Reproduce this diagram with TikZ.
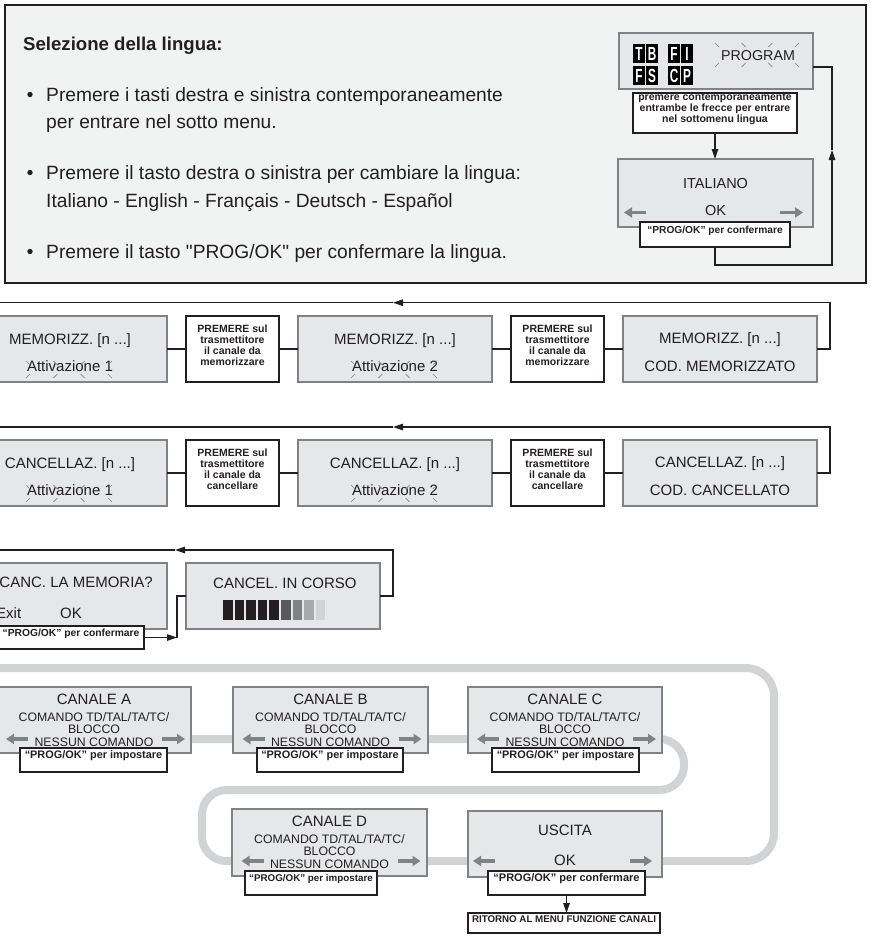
\documentclass[tikz,border=0pt]{standalone}
\usepackage{fontspec}
\usepackage{graphicx}
\setmainfont{Liberation Sans}
\newfontfamily\rawfont{Liberation Sans}[Ligatures=TeXOff]
\usetikzlibrary{arrows.meta,fit,backgrounds}
\definecolor{panelfill}{HTML}{F1F2F2}
\definecolor{panelline}{HTML}{231F20}
\definecolor{lcdfill}{HTML}{E6E7E8}
\definecolor{lcdline}{HTML}{808285}
\definecolor{loopgrey}{HTML}{D1D3D4}
\definecolor{arrgrey}{HTML}{808285}
\definecolor{ink}{HTML}{231F20}
\definecolor{barA}{HTML}{58595B}
\definecolor{barB}{HTML}{808285}
\definecolor{barC}{HTML}{A7A9AC}
\definecolor{barD}{HTML}{D1D3D4}
\newcommand\sparks[4]{%
  \foreach \k/\s in {-1.5/1,-0.5/1,0.5/-1,1.5/-1}{%
    \draw[spark] ({#1+(\k)*#2-2*(\s)},#3) -- ++({4*(\s)},4);
    \draw[spark] ({#1+(\k)*#2+2*(\s)},#4) -- ++({-4*(\s)},4);
  }}
\newcommand\lcdch[4]{%
  \node[fill=black, minimum width=12.3pt, minimum height=19pt, inner sep=0pt,
        text=white, font=\bfseries\fontsize{19}{19}\selectfont] (#4) at (#1+6,#2+9.5)
        {\scalebox{0.62}[1]{#3}};}
\newcommand\chtexts[4]{%
  \node[boxtxt] (#1t) at (#2,#3+17) {CANALE #4};
  \node[subtxt] (#1c) at (#2,#3+34) {COMANDO TD/TAL/TA/TC/};
  \node[subtxt] (#1b) at (#2,#3+46.5) {BLOCCO};
  \node[subtxt] (#1n) at (#2,#3+59) {NESSUN COMANDO};
  \draw[garrow] (#2-66,#3+52) -- (#2-88,#3+52);
  \draw[garrow] (#2+68,#3+52) -- (#2+91,#3+52);}
\begin{document}
\begin{tikzpicture}[x=1pt,y=-1pt,
  lcd/.style={draw=lcdline, fill=lcdfill, line width=1.3pt, inner sep=0pt, outer sep=0pt},
  lbl/.style={draw=ink, fill=white, line width=1.1pt, inner sep=0pt, outer sep=0pt,
              align=center, text=ink, font=\bfseries\fontsize{10.5}{11}\selectfont},
  boxtxt/.style={inner sep=0pt, anchor=base, text=ink, font=\fontsize{15}{17}\selectfont},
  subtxt/.style={inner sep=0pt, anchor=base, text=ink, font=\fontsize{12.3}{13}\selectfont},
  bul/.style={inner sep=0pt, anchor=base west, text=ink, font=\fontsize{19.2}{22}\selectfont},
  dot/.style={circle, fill=ink, inner sep=0pt, minimum size=5.4pt},
  conn/.style={draw=ink, line width=1.2pt},
  arrowend/.style={-{Triangle[length=10pt,width=6.5pt]}},
  greyloop/.style={draw=loopgrey, line width=8pt},
  garrow/.style={draw=arrgrey, line width=3.5pt, -{Triangle[length=8pt,width=10pt]}},
  spark/.style={draw=arrgrey, line width=0.6pt},
]
\useasboundingbox (0,0) rectangle (875,945);

% ---------- top panel ----------
\node[draw=panelline, fill=panelfill, line width=2pt, inner sep=0pt, fit={(5,5)(866,283)}] (panel) {};
\node[inner sep=0pt, anchor=base west, text=ink, font=\bfseries\fontsize{18.6}{20}\selectfont] (title) at (23,50) {Selezione della lingua:};
\node[dot] (d1) at (30,94.5) {};
\node[bul] (b1a) at (46,101) {Premere i tasti destra e sinistra contemporaneamente};
\node[bul] (b1b) at (46,128) {per entrare nel sotto menu.};
\node[dot] (d2) at (30,172.5) {};
\node[bul] (b2a) at (46,179) {Premere il tasto destra o sinistra per cambiare la lingua:};
\node[bul] (b2b) at (46,207) {Italiano - English - Français - Deutsch - Español};
\node[dot] (d3) at (30,251.5) {};
\node[bul, font=\rawfont\fontsize{19.2}{22}\selectfont] (b3a) at (46,258) {Premere il tasto "PROG/OK" per confermare la lingua.};

\node[lcd, fit={(619,33)(813,89)}] (prog) {};
\lcdch{633}{44}{T}{cT}\lcdch{646}{44}{B}{cB}\lcdch{668}{44}{F}{cF}\lcdch{681}{44}{I}{cI}
\lcdch{633}{66}{F}{cF2}\lcdch{646}{66}{S}{cS}\lcdch{668}{66}{C}{cC}\lcdch{681}{66}{P}{cP}
\node[boxtxt, font=\fontsize{14.3}{16}\selectfont] (progtxt) at (758,60) {PROGRAM};
\sparks{757}{26.7}{43}{63}
\node[lbl, fit={(633,93)(797,133)}] (progl) {premere contemporaneamente\\entrambe le frecce per entrare\\nel sottomenu lingua};

\node[lcd, fit={(618,159)(813,227)}] (ital) {};
\node[boxtxt, font=\fontsize{14.5}{16}\selectfont] (italtxt) at (715.5,188) {ITALIANO};
\node[boxtxt, font=\fontsize{14.5}{16}\selectfont] (italok) at (715.5,215) {OK};
\draw[garrow] (646,212.5) -- (624,212.5);
\draw[garrow] (780,212.5) -- (803,212.5);
\node[lbl, fit={(640,222)(790,247)}, font=\bfseries\fontsize{10.2}{11}\selectfont] (itall) {“PROG/OK” per confermare};

\draw[conn, arrowend] (progl.south) -- (progl.south |- ital.north);
\coordinate (r1) at (832,265);
\coordinate (rt) at (832,150);
\coordinate (r2) at (832,67);
\draw[conn, arrowend] (itall.south) |- (r1) -- (rt);
\draw[conn] (rt) -- (r2) -- (prog.east |- r2);

% ---------- memorizzazione ----------
\node[lcd, fit={(-27,316)(167,382)}] (m1) {};
\node[lbl, fit={(186,316)(279,382)}] (ml1) {PREMERE sul\\trasmettitore\\il canale da\\memorizzare};
\node[lcd, fit={(298,316)(492,382)}] (m2) {};
\node[lbl, fit={(511,316)(604,382)}] (ml2) {PREMERE sul\\trasmettitore\\il canale da\\memorizzare};
\node[lcd, fit={(623,316)(817,382)}] (m3) {};
\node[boxtxt] (m1a) at (70,344) {MEMORIZZ. [n ...]};
\node[boxtxt] (m1b) at (70,371) {Attivazione 1};
\sparks{69}{27.3}{361}{374}
\node[boxtxt] (m2a) at (395,344) {MEMORIZZ. [n ...]};
\node[boxtxt] (m2b) at (395,371) {Attivazione 2};
\sparks{394}{27.3}{361}{374}
\node[boxtxt] (m3a) at (720,343) {MEMORIZZ. [n ...]};
\node[boxtxt] (m3b) at (720,371) {COD. MEMORIZZATO};
\draw[conn] (m1) -- (ml1);
\draw[conn] (ml1) -- (m2);
\draw[conn] (m2) -- (ml2);
\draw[conn] (ml2) -- (m3);
\coordinate (mr) at (830,302.7);
\coordinate (mt) at (393,302.7);
\coordinate (me) at (0,302.7);
\draw[conn, arrowend] (m3.east) -| (mr) -- (mt);
\draw[conn] (mt) -- (me);

% ---------- cancellazione ----------
\node[lcd, fit={(-27,440)(167,506)}] (k1) {};
\node[lbl, fit={(186,440)(279,506)}] (kl1) {PREMERE sul\\trasmettitore\\il canale da\\cancellare};
\node[lcd, fit={(298,440)(492,506)}] (k2) {};
\node[lbl, fit={(511,440)(604,506)}] (kl2) {PREMERE sul\\trasmettitore\\il canale da\\cancellare};
\node[lcd, fit={(623,440)(817,506)}] (k3) {};
\node[boxtxt] (k1a) at (70,468) {CANCELLAZ. [n ...]};
\node[boxtxt] (k1b) at (70,495) {Attivazione 1};
\sparks{69}{27.3}{485}{498}
\node[boxtxt] (k2a) at (395,468) {CANCELLAZ. [n ...]};
\node[boxtxt] (k2b) at (395,495) {Attivazione 2};
\sparks{394}{27.3}{485}{498}
\node[boxtxt] (k3a) at (720,467) {CANCELLAZ. [n ...]};
\node[boxtxt] (k3b) at (720,495) {COD. CANCELLATO};
\draw[conn] (k1) -- (kl1);
\draw[conn] (kl1) -- (k2);
\draw[conn] (k2) -- (kl2);
\draw[conn] (kl2) -- (k3);
\coordinate (kr) at (830,427);
\coordinate (kt) at (393,427);
\coordinate (ke) at (0,427);
\draw[conn, arrowend] (k3.east) -| (kr) -- (kt);
\draw[conn] (kt) -- (ke);

% ---------- cancella memoria ----------
\node[lcd, fit={(-27,563)(167,629)}] (cm) {};
\node[boxtxt, anchor=base east] (cmt) at (153,587) {CANC. LA MEMORIA?};
\node[boxtxt, anchor=base west] (cmx) at (-4,618) {Exit};
\node[boxtxt, anchor=base west] (cmo) at (60,618) {OK};
\node[lbl, fit={(-2,626)(144,649)}, font=\bfseries\fontsize{10.3}{11}\selectfont] (cml) {“PROG/OK” per confermare};
\node[lcd, fit={(186,563)(380,629)}] (cc) {};
\node[boxtxt, anchor=base west] (cct) at (213,588) {CANCEL. IN CORSO};
\foreach \i/\c in {0/ink,1/ink,2/ink,3/ink,4/ink,5/barA,6/barB,7/barC,8/barD}{
  \node[fill=\c, minimum width=9.6pt, minimum height=20pt, inner sep=0pt] (bar\i) at ({227.8+11.6*\i},610) {};
}
\coordinate (cr) at (393,550);
\coordinate (ct) at (175,550);
\coordinate (ce) at (0,550);
\draw[conn, arrowend] (cc.east) -| (cr) -- (ct);
\draw[conn] (ct) -- (ce);
\coordinate (cq) at (177,637.5);
\draw[conn, arrowend] (cml.east) -- (cq);
\draw[conn] (cq) |- (cc.west);

% ---------- canali ----------
\node[lcd, fit={(-3,687)(191,753)}] (chA) {};
\node[lcd, fit={(233,687)(428,753)}] (chB) {};
\node[lcd, fit={(468,687)(662,753)}] (chC) {};
\node[lcd, fit={(232,809)(427,876)}] (chD) {};
\node[lcd, fit={(468,811)(662,877)}] (usc) {};
\begin{scope}[on background layer]
  \draw[greyloop, rounded corners=24.5pt] (chA.center |- 0,739) -- (684,739) -- (684,790) -- (202,790) -- (202,861) -- (chD.center |- 0,861);
  \draw[greyloop, rounded corners=28pt] (chD.center |- 0,861) -- (774,861) -- (774,668) -- (0,668);
\end{scope}
\chtexts{chA}{94}{687}{A}
\chtexts{chB}{330.5}{687}{B}
\chtexts{chC}{565}{687}{C}
\chtexts{chD}{329.5}{809}{D}
\node[lbl, fit={(20,748)(167,772)}, font=\bfseries\fontsize{10.9}{11}\selectfont] (lA) {“PROG/OK” per impostare};
\node[lbl, fit={(257,748)(403,772)}, font=\bfseries\fontsize{10.9}{11}\selectfont] (lB) {“PROG/OK” per impostare};
\node[lbl, fit={(492,748)(639,772)}, font=\bfseries\fontsize{10.9}{11}\selectfont] (lC) {“PROG/OK” per impostare};
\node[lbl, fit={(245,871)(377,895)}, font=\bfseries\fontsize{9.8}{11}\selectfont] (lD) {“PROG/OK” per impostare};
\node[boxtxt] (usct) at (565,835) {USCITA};
\node[boxtxt] (usco) at (565,865) {OK};
\draw[garrow] (495,861) -- (473,861);
\draw[garrow] (630,861) -- (652,861);
\node[lbl, fit={(488,871)(645,895)}, font=\bfseries\fontsize{11}{11}\selectfont] (lU) {“PROG/OK” per confermare};
\node[lbl, fit={(468,913)(660,933)}, font=\bfseries\fontsize{9.75}{11}\selectfont] (rit) {RITORNO AL MENU FUNZIONE CANALI};
\draw[conn, arrowend] (lU.south) -- (lU.south |- rit.north);
\end{tikzpicture}
\end{document}
